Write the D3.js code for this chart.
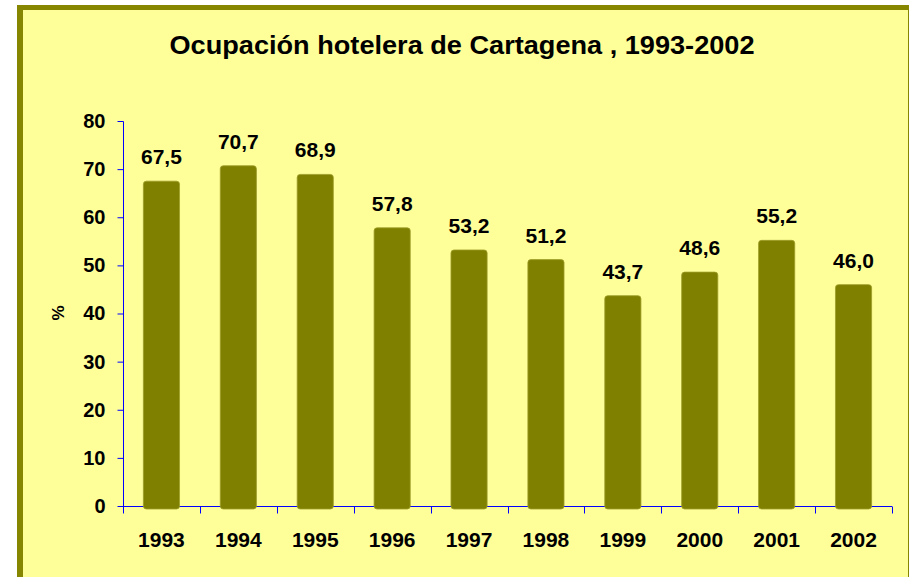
<!DOCTYPE html>
<html>
<head>
<meta charset="utf-8">
<script src="https://cdn.jsdelivr.net/npm/d3@7"></script>
<style>
  body { margin: 0; background: #fff; }
  text { font-family: "Liberation Sans", Arial, sans-serif; font-weight: bold; fill: #000; }
</style>
</head>
<body>
<div id="chart"></div>
<script>
// data
var years = ["1993", "1994", "1995", "1996", "1997", "1998", "1999", "2000", "2001", "2002"];
var occupancy = [67.5, 70.7, 68.9, 57.8, 53.2, 51.2, 43.7, 48.6, 55.2, 46.0];
var yTicks = [0, 10, 20, 30, 40, 50, 60, 70, 80];

var W = 910, H = 577;
var margin = {top: 121, right: 18, bottom: 71, left: 123},
    width = 892 - margin.left,
    height = 506 - margin.top;

var svg = d3.select("#chart")
  .append("svg")
    .attr("width", W)
    .attr("height", H);

// frame
svg.append("rect")
  .attr("x", 17).attr("y", 5)
  .attr("width", 892).attr("height", 600)
  .attr("fill", "#ffff99");
svg.append("line")
  .attr("x1", 17).attr("x2", 909).attr("y1", 7.5).attr("y2", 7.5)
  .attr("stroke", "#868600").attr("stroke-width", 5);
svg.append("line")
  .attr("x1", 20).attr("x2", 20).attr("y1", 5).attr("y2", 600)
  .attr("stroke", "#868600").attr("stroke-width", 6);
svg.append("line")
  .attr("x1", 908.5).attr("x2", 908.5).attr("y1", 5).attr("y2", 600)
  .attr("stroke", "#868600").attr("stroke-width", 1);

// title
svg.append("text")
  .attr("x", 462).attr("y", 54)
  .attr("text-anchor", "middle")
  .style("font-size", "26px")
  .attr("textLength", 585)
  .attr("lengthAdjust", "spacingAndGlyphs")
  .text("Ocupación hotelera de Cartagena , 1993-2002");

var g = svg.append("g")
  .attr("transform", `translate(${margin.left},${margin.top})`);

var x = d3.scaleBand()
  .domain(years)
  .range([0, width])
  .paddingInner(0.53)
  .paddingOuter(0.265);

var y = d3.scaleLinear()
  .domain([0, 80])
  .range([height, 0]);

// y axis
var yAxis = g.append("g")
  .attr("transform", "translate(0.5,0)")
  .call(d3.axisLeft(y).tickValues(yTicks).tickSize(6).tickPadding(12));
yAxis.select(".domain").attr("stroke", "#0000ff").attr("d", `M0,0.5V${height + 0.5}`);
yAxis.selectAll(".tick line").attr("stroke", "#0000ff");
yAxis.selectAll(".tick text")
  .style("font-size", "20px")
  .attr("font-family", null);

// x axis with ticks between categories
var xAxis = g.append("g")
  .attr("transform", `translate(0,${height + 0.5})`);
xAxis.append("line")
  .attr("x1", 0).attr("x2", width)
  .attr("stroke", "#0000ff");
var bounds = d3.range(years.length + 1).map(i => i * width / years.length);
xAxis.selectAll(".xt")
  .data(bounds)
  .join("line")
    .attr("class", "xt")
    .attr("x1", d => Math.round(d) + 0.5).attr("x2", d => Math.round(d) + 0.5)
    .attr("y1", 0).attr("y2", 7)
    .attr("stroke", "#0000ff");
xAxis.selectAll(".xl")
  .data(years)
  .join("text")
    .attr("class", "xl")
    .attr("x", d => x(d) + x.bandwidth() / 2)
    .attr("y", 40)
    .attr("text-anchor", "middle")
    .style("font-size", "21px")
    .text(d => d);

// y axis title
svg.append("text")
  .attr("transform", "translate(64,313) rotate(-90)")
  .attr("text-anchor", "middle")
  .style("font-size", "17px")
  .text("%");

// bars
var data = years.map((d, i) => ({year: d, value: occupancy[i]}));
g.selectAll(".bar")
  .data(data)
  .join("rect")
    .attr("class", "bar")
    .attr("x", d => x(d.year))
    .attr("width", x.bandwidth())
    .attr("y", d => y(d.value))
    .attr("height", d => height - y(d.value) + 3)
    .attr("rx", 3)
    .attr("fill", "#808000")
    .attr("stroke", "#9c9c2a")
    .attr("stroke-width", 0.8);

// value labels
g.selectAll(".val")
  .data(data)
  .join("text")
    .attr("class", "val")
    .attr("x", d => x(d.year) + x.bandwidth() / 2)
    .attr("y", d => y(d.value) - 17)
    .attr("text-anchor", "middle")
    .style("font-size", "21px")
    .text(d => d3.format(".1f")(d.value).replace(".", ","));
</script>
</body>
</html>
